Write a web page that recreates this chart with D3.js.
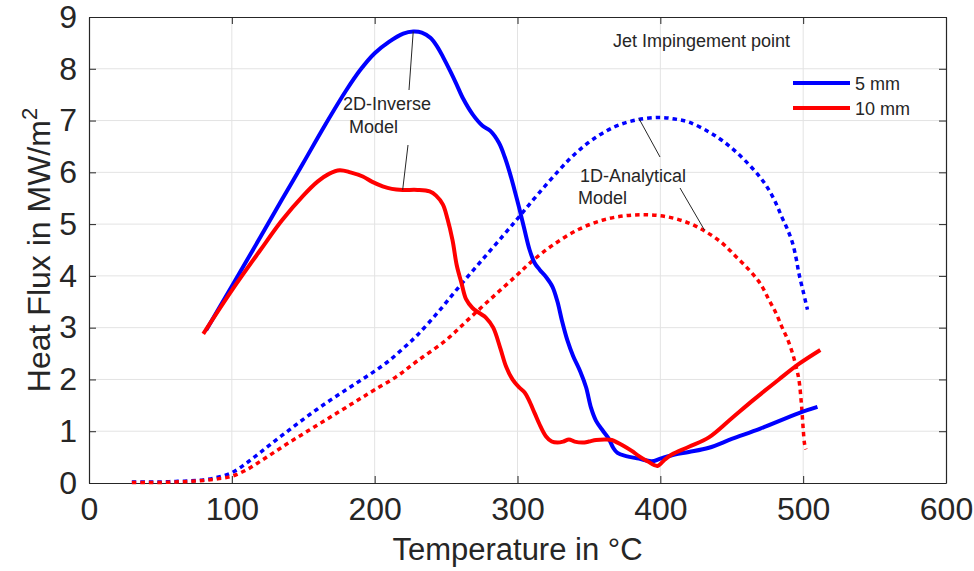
<!DOCTYPE html>
<html><head><meta charset="utf-8">
<script src="https://cdn.jsdelivr.net/npm/d3@7"></script>
<style>body{margin:0;background:#fff}svg{display:block}text{font-family:"Liberation Sans",Arial,Helvetica,sans-serif;fill:#262626}</style>
</head><body><svg id="c" width="974" height="571"></svg>
<script>
const xTicks = [0,100,200,300,400,500,600];
const yTicks = [0,1,2,3,4,5,6,7,8,9];
const seriesNames = ["5 mm","10 mm"];
const xLabel = "Temperature in °C";
const yLabelMain = "Heat Flux in MW/m";
const yLabelSup = "2";
const titleNote = "Jet Impingement point";
const inverseNote = ["2D-Inverse","Model"];
const analyticNote = ["1D-Analytical","Model"];

const inverse5 = [[82,2.95],[100,3.8],[120,4.75],[135,5.47],[150,6.18],[165,6.9],[180,7.58],[190,7.98],[200,8.3],[210,8.52],[220,8.68],[227,8.72],[233,8.7],[239,8.6],[244,8.42],[248,8.22],[253,7.95],[257,7.72],[262,7.42],[268.6,7.12],[275.5,6.9],[281,6.8],[287,6.57],[291,6.3],[294.5,6.0],[298,5.65],[301.5,5.28],[305,4.88],[308.5,4.5],[312,4.25],[315.5,4.12],[320,3.98],[324.5,3.79],[328,3.5],[331,3.15],[335,2.75],[339,2.45],[344,2.15],[348,1.85],[351.5,1.45],[355,1.2],[360,1.0],[364,0.85],[367,0.68],[370,0.58],[376,0.52],[385,0.47],[394,0.42],[400,0.47],[410,0.55],[420,0.6],[434,0.68],[450,0.85],[470,1.05],[497,1.35],[510,1.47]];
const inverse10 = [[80,2.88],[100,3.72],[120,4.5],[135,5.07],[150,5.55],[160,5.82],[168,5.97],[175.5,6.04],[183,6.0],[191.7,5.92],[198,5.82],[205.6,5.73],[212,5.68],[219.6,5.66],[230,5.66],[238.5,5.63],[243,5.55],[247.7,5.38],[251,5.1],[254.5,4.69],[257.5,4.2],[260.8,3.86],[264,3.55],[268.5,3.38],[274,3.27],[278,3.19],[283,3.0],[288,2.6],[292,2.25],[296.5,2.0],[301,1.85],[305,1.75],[308,1.6],[312,1.35],[316,1.1],[320,0.9],[324,0.8],[328,0.78],[332,0.8],[336,0.84],[340,0.8],[345.5,0.78],[350,0.8],[355,0.83],[362,0.84],[366,0.83],[370,0.78],[373.5,0.73],[380,0.62],[385,0.52],[391,0.42],[398,0.33],[403,0.45],[408,0.55],[420,0.7],[434,0.88],[450,1.25],[465,1.6],[483,2.0],[497,2.3],[512,2.57]];
const analytic5 = [[30,0.02],[40,0.02],[50,0.02],[60,0.03],[70,0.04],[80,0.06],[90,0.11],[100,0.2],[110,0.38],[120,0.59],[130,0.81],[140,1.02],[150,1.23],[160,1.43],[170,1.62],[180,1.8],[190,1.98],[200,2.16],[210,2.36],[220,2.6],[230,2.86],[245,3.32],[260,3.82],[275,4.3],[290,4.78],[301.4,5.15],[315,5.6],[329.4,6.05],[340,6.35],[352.4,6.63],[368,6.88],[383,7.01],[399,7.06],[410,7.03],[420,6.97],[434,6.78],[443,6.62],[452,6.42],[462,6.15],[470,5.9],[476,5.66],[481,5.4],[485,5.14],[489,4.9],[492.5,4.64],[495,4.35],[497,4.05],[500,3.7],[503,3.35]];
const analytic10 = [[30,0.01],[40,0.01],[50,0.01],[60,0.02],[70,0.03],[80,0.05],[90,0.08],[100,0.13],[110,0.25],[120,0.42],[130,0.6],[140,0.78],[150,0.95],[160,1.12],[170,1.29],[180,1.46],[190,1.63],[200,1.8],[215,2.05],[230,2.36],[250,2.76],[266,3.17],[283,3.6],[299,4.0],[310,4.28],[325,4.6],[343,4.9],[360,5.08],[375,5.16],[390,5.18],[405,5.14],[420,5.02],[432,4.85],[443,4.64],[452,4.4],[462,4.12],[470,3.85],[476,3.54],[481,3.28],[485,3.02],[489,2.78],[492.5,2.51],[495,2.25],[497,2.0],[499,1.45],[500,1.05],[501,0.75],[502,0.65]];

const svg = d3.select("#c");
const L=89,R=946,T=17,B=483;
const x = d3.scaleLinear().domain([0,600]).range([L,R]);
const y = d3.scaleLinear().domain([0,9]).range([B,T]);
const grid="#e3e3e3", axc="#262626";

svg.append("g").selectAll("line").data(xTicks.slice(1,-1)).join("line")
 .attr("x1",d=>x(d)).attr("x2",d=>x(d)).attr("y1",T).attr("y2",B).attr("stroke",grid).attr("stroke-width",1);
svg.append("g").selectAll("line").data(yTicks.slice(1,-1)).join("line")
 .attr("y1",d=>y(d)).attr("y2",d=>y(d)).attr("x1",L).attr("x2",R).attr("stroke",grid).attr("stroke-width",1);

const tk=7;
const gx=svg.append("g").attr("transform",`translate(0,${B})`).call(d3.axisBottom(x).tickValues(xTicks).tickSizeInner(-tk).tickSizeOuter(0).tickPadding(14));
const gy=svg.append("g").attr("transform",`translate(${L},0)`).call(d3.axisLeft(y).tickValues(yTicks).tickSizeInner(-tk).tickSizeOuter(0).tickPadding(12));
const gxt=svg.append("g").attr("transform",`translate(0,${T})`).call(d3.axisTop(x).tickValues(xTicks).tickSizeInner(-tk).tickSizeOuter(0).tickFormat(""));
const gyr=svg.append("g").attr("transform",`translate(${R},0)`).call(d3.axisRight(y).tickValues(yTicks).tickSizeInner(-tk).tickSizeOuter(0).tickFormat(""));
[gx,gy,gxt,gyr].forEach(g=>{g.select(".domain").attr("stroke",axc).attr("stroke-width",1.2);g.selectAll(".tick line").attr("stroke",axc);g.selectAll("text").attr("fill",axc).style("font-size","32px").style("font-family","'Liberation Sans',Arial,sans-serif");});

const line=d3.line().x(d=>x(d[0])).y(d=>y(d[1])).curve(d3.curveCatmullRom.alpha(0.5));
const cg=svg.append("g");
function draw(data,color,dotted){
  const p=cg.append("path").datum(data).attr("d",line).attr("fill","none").attr("stroke",color)
   .attr("stroke-width",dotted?3.5:4).attr("stroke-linejoin","round");
  if(dotted) p.attr("stroke-dasharray","4.5,4");
}
draw(analytic5,"#0000ff",true);
draw(analytic10,"#ff0000",true);
draw(inverse5,"#0000ff",false);
draw(inverse10,"#ff0000",false);

svg.append("text").attr("x",(L+R)/2).attr("y",560).attr("text-anchor","middle").style("font-size","31px").text(xLabel);
const yl=svg.append("text").attr("transform",`translate(50,${(T+B)/2}) rotate(-90)`).attr("text-anchor","middle").style("font-size","32px");
yl.append("tspan").text(yLabelMain);
yl.append("tspan").attr("dy",-13).style("font-size","22px").text(yLabelSup);

const an=svg.append("g").style("font-size","18px");
an.append("text").attr("x",613).attr("y",47).text(titleNote);
an.append("text").attr("x",343).attr("y",110).text(inverseNote[0]);
an.append("text").attr("x",349).attr("y",133).text(inverseNote[1]);
an.append("text").attr("x",580).attr("y",182).text(analyticNote[0]);
an.append("text").attr("x",578).attr("y",204).text(analyticNote[1]);
const leaders=[[x(227),y(8.72),409,90],[408,145,x(219.6),y(5.66)],[x(385),y(7.04),660,157],[680,188,x(431),y(4.88)]];
svg.append("g").selectAll("line").data(leaders).join("line")
 .attr("x1",d=>d[0]).attr("y1",d=>d[1]).attr("x2",d=>d[2]).attr("y2",d=>d[3]).attr("stroke","#262626").attr("stroke-width",1);

const lg=svg.append("g");
const colors=["#0000ff","#ff0000"];
seriesNames.forEach((n,i)=>{
  const yy=83+i*25;
  lg.append("line").attr("x1",793).attr("x2",850).attr("y1",yy).attr("y2",yy).attr("stroke",colors[i]).attr("stroke-width",4);
  lg.append("text").attr("x",855).attr("y",yy+7).style("font-size","18px").text(n);
});
</script></body></html>
